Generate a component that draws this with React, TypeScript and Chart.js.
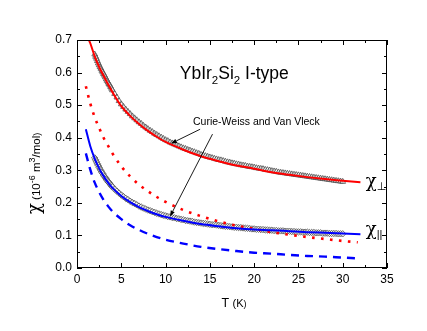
import React, { useEffect, useRef } from "react";
import { Chart, registerables } from "chart.js";
Chart.register(...registerables);

// ---- data ----
const xTickValues = [0, 5, 10, 15, 20, 25, 30, 35];
const yTickValues = [0, 0.1, 0.2, 0.3, 0.4, 0.5, 0.6, 0.7];

// Curie-Weiss + Van Vleck fit, chi_perp (red solid)
const perpFitT = [1.35, 1.5, 2, 2.5, 3, 3.5, 4, 5, 6, 7, 8, 9, 10, 11, 12, 14, 16, 18, 20, 22, 24, 26, 28, 30, 32];
const perpFit = [0.700, 0.690, 0.650, 0.617, 0.590, 0.564, 0.540, 0.497, 0.467, 0.442, 0.421, 0.403, 0.387, 0.375, 0.363, 0.343, 0.328, 0.315, 0.305, 0.294, 0.286, 0.279, 0.273, 0.268, 0.263];

// Curie-Weiss part, chi_perp (red dotted)
const perpCwT = [1.0, 1.5, 2, 2.5, 3, 3.5, 4, 5, 6, 7, 8, 9, 10, 12, 14, 16, 18, 20, 22, 24, 26, 28, 30, 31.7];
const perpCw = [0.558, 0.505, 0.463, 0.430, 0.400, 0.376, 0.352, 0.312, 0.281, 0.256, 0.236, 0.218, 0.203, 0.178, 0.159, 0.143, 0.130, 0.120, 0.110, 0.102, 0.095, 0.089, 0.083, 0.079];

// Curie-Weiss + Van Vleck fit, chi_par (blue solid)
const parFitT = [1.0, 1.5, 2, 2.5, 3, 3.5, 4, 5, 6, 7, 8, 9, 10, 12, 14, 16, 18, 20, 22, 24, 26, 28, 30, 32];
const parFit = [0.426, 0.374, 0.336, 0.306, 0.282, 0.262, 0.246, 0.221, 0.202, 0.187, 0.175, 0.165, 0.157, 0.145, 0.135, 0.128, 0.122, 0.118, 0.116, 0.113, 0.110, 0.108, 0.106, 0.104];

// Curie-Weiss part, chi_par (blue dashed)
const parCwT = [1.0, 1.5, 2, 2.5, 3, 3.5, 4, 5, 6, 7, 8, 9, 10, 12, 14, 16, 18, 20, 22, 24, 26, 28, 30, 31.4];
const parCw = [0.352, 0.302, 0.262, 0.233, 0.209, 0.190, 0.174, 0.150, 0.131, 0.117, 0.105, 0.095, 0.087, 0.075, 0.065, 0.058, 0.052, 0.047, 0.044, 0.040, 0.037, 0.035, 0.032, 0.030];

// measured data
const dataT = [2.0, 2.1, 2.2, 2.3, 2.4, 2.5, 2.6, 2.7, 2.8, 2.9, 3.0, 3.1, 3.2, 3.3, 3.4, 3.5, 3.6, 3.7, 3.8, 3.9, 4.0,
  4.25, 4.5, 4.75, 5.0, 5.25, 5.5, 5.75, 6.0, 6.25, 6.5, 6.75, 7.0, 7.25, 7.5, 7.75, 8.0, 8.25, 8.5, 8.75, 9.0, 9.25, 9.5, 9.75, 10.0,
  10.25, 10.5, 10.75, 11, 11.25, 11.5, 11.75, 12, 12.25, 12.5, 12.75, 13, 13.25, 13.5, 13.75, 14, 14.25, 14.5, 14.75, 15,
  15.25, 15.5, 15.75, 16, 16.25, 16.5, 16.75, 17, 17.25, 17.5, 17.75, 18, 18.25, 18.5, 18.75, 19, 19.25, 19.5, 19.75, 20,
  20.25, 20.5, 20.75, 21, 21.25, 21.5, 21.75, 22, 22.25, 22.5, 22.75, 23, 23.25, 23.5, 23.75, 24, 24.25, 24.5, 24.75, 25,
  25.25, 25.5, 25.75, 26, 26.25, 26.5, 26.75, 27, 27.25, 27.5, 27.75, 28, 28.25, 28.5, 28.75, 29, 29.25, 29.5, 29.75, 30];
const chiPerpData = [0.656, 0.649, 0.643, 0.636, 0.629, 0.623, 0.617, 0.612, 0.606, 0.601, 0.596, 0.591, 0.586, 0.580, 0.575, 0.570, 0.565, 0.561, 0.556, 0.551, 0.546,
  0.535, 0.524, 0.513, 0.503, 0.495, 0.487, 0.480, 0.473, 0.466, 0.460, 0.454, 0.448, 0.443, 0.437, 0.432, 0.427, 0.422, 0.418, 0.413, 0.409, 0.405, 0.401, 0.397, 0.393,
  0.390, 0.386, 0.383, 0.380, 0.377, 0.374, 0.371, 0.368, 0.366, 0.363, 0.361, 0.358, 0.356, 0.353, 0.351, 0.348, 0.346, 0.344, 0.342, 0.340,
  0.338, 0.336, 0.334, 0.332, 0.331, 0.329, 0.327, 0.325, 0.324, 0.322, 0.321, 0.319, 0.318, 0.316, 0.315, 0.314, 0.312, 0.311, 0.310, 0.309,
  0.307, 0.306, 0.305, 0.304, 0.302, 0.301, 0.300, 0.298, 0.297, 0.296, 0.294, 0.293, 0.292, 0.291, 0.290, 0.289, 0.288, 0.287, 0.286, 0.285,
  0.284, 0.283, 0.282, 0.281, 0.280, 0.279, 0.278, 0.277, 0.276, 0.275, 0.274, 0.273, 0.272, 0.271, 0.270, 0.269, 0.268, 0.267, 0.266, 0.265];
const chiParData = [0.338, 0.332, 0.326, 0.320, 0.315, 0.309, 0.304, 0.299, 0.294, 0.290, 0.285, 0.281, 0.277, 0.273, 0.269, 0.265, 0.262, 0.259, 0.255, 0.252, 0.249,
  0.242, 0.236, 0.230, 0.224, 0.219, 0.214, 0.210, 0.205, 0.201, 0.198, 0.194, 0.190, 0.187, 0.184, 0.181, 0.178, 0.176, 0.173, 0.171, 0.168, 0.166, 0.164, 0.162, 0.160,
  0.158, 0.157, 0.155, 0.154, 0.152, 0.151, 0.149, 0.148, 0.146, 0.145, 0.144, 0.143, 0.141, 0.140, 0.139, 0.138, 0.137, 0.136, 0.135, 0.134,
  0.133, 0.133, 0.132, 0.131, 0.130, 0.129, 0.128, 0.128, 0.127, 0.126, 0.125, 0.125, 0.124, 0.124, 0.123, 0.122, 0.122, 0.121, 0.120, 0.120,
  0.119, 0.119, 0.118, 0.118, 0.117, 0.117, 0.116, 0.116, 0.115, 0.115, 0.114, 0.114, 0.114, 0.113, 0.113, 0.113, 0.112, 0.112, 0.111, 0.111,
  0.111, 0.110, 0.110, 0.110, 0.109, 0.109, 0.109, 0.108, 0.108, 0.108, 0.107, 0.107, 0.107, 0.106, 0.106, 0.106, 0.106, 0.105, 0.105, 0.105];

// annotation anchors (data units)
const compoundLabel = { T: 11.6, v: 0.579 };
const fitLabel = { T: 13.1, v: 0.438 };
const arrowPerp = { fromT: 13.9, fromV: 0.426, toT: 10.6, toV: 0.382 };
const arrowPar = { fromT: 15.3, fromV: 0.411, toT: 10.5, toV: 0.158 };
const perpLabel = { T: 32.6, v: 0.250 };
const parLabel = { T: 32.6, v: 0.100 };

const FONT = "'Liberation Sans', Arial, 'DejaVu Sans', sans-serif";
const GREEK = "'DejaVu Serif', 'Liberation Serif', serif";

const zip = (xs: number[], ys: number[]) => xs.map((x, i) => ({ x, y: ys[i] }));

type Run = [string, number, number, string?];
function drawRuns(ctx: CanvasRenderingContext2D, runs: Run[], x: number, y: number) {
  let cx = x;
  for (const [t, size, dy, fam] of runs) {
    ctx.font = `${size}px ${fam || FONT}`;
    ctx.fillText(t, cx, y + dy);
    cx += ctx.measureText(t).width;
  }
}
function runsWidth(ctx: CanvasRenderingContext2D, runs: Run[]) {
  let w = 0;
  for (const [t, size, , fam] of runs) { ctx.font = `${size}px ${fam || FONT}`; w += ctx.measureText(t).width; }
  return w;
}

function arrow(ctx: CanvasRenderingContext2D, x1: number, y1: number, x2: number, y2: number) {
  const ang = Math.atan2(y2 - y1, x2 - x1);
  const L = 6, W = 2.2;
  const bx = x2 - L * Math.cos(ang), by = y2 - L * Math.sin(ang);
  ctx.beginPath();
  ctx.moveTo(x1, y1);
  ctx.lineTo(bx, by);
  ctx.stroke();
  ctx.beginPath();
  ctx.moveTo(x2, y2);
  ctx.lineTo(bx + W * Math.sin(ang), by - W * Math.cos(ang));
  ctx.lineTo(bx - W * Math.sin(ang), by + W * Math.cos(ang));
  ctx.closePath();
  ctx.fill();
}

const decor = {
  id: "decor",
  afterDraw(chart: any) {
    const { ctx, chartArea: a, scales } = chart;
    const x = scales.x, y = scales.y;
    ctx.save();
    ctx.strokeStyle = "#000";
    ctx.fillStyle = "#000";
    ctx.lineWidth = 1;
    // frame
    ctx.strokeRect(Math.round(a.left) + 0.5, Math.round(a.top) + 0.5, Math.round(a.right - a.left) - 1, Math.round(a.bottom - a.top) - 1);
    // inward ticks
    const xMin = xTickValues[0], xMax = xTickValues[xTickValues.length - 1];
    const xStep = xTickValues[1] - xTickValues[0];
    for (let v = xMin; v <= xMax + 1e-9; v += xStep / 2) {
      const major = Math.abs(v / xStep - Math.round(v / xStep)) < 1e-6;
      const len = major ? 5 : 3;
      const px = Math.round(x.getPixelForValue(v)) + 0.5;
      ctx.beginPath();
      ctx.moveTo(px, a.bottom); ctx.lineTo(px, a.bottom - len);
      ctx.moveTo(px, a.top); ctx.lineTo(px, a.top + len);
      ctx.stroke();
    }
    const yMin = yTickValues[0], yMax = yTickValues[yTickValues.length - 1];
    const yStep = yTickValues[1] - yTickValues[0];
    for (let v = yMin; v <= yMax + 1e-9; v += yStep / 2) {
      const major = Math.abs(v / yStep - Math.round(v / yStep)) < 1e-6;
      const len = major ? 5 : 3;
      const py = Math.round(y.getPixelForValue(v)) + 0.5;
      ctx.beginPath();
      ctx.moveTo(a.left, py); ctx.lineTo(a.left + len, py);
      ctx.moveTo(a.right, py); ctx.lineTo(a.right - len, py);
      ctx.stroke();
    }

    ctx.textAlign = "left";
    ctx.textBaseline = "alphabetic";
    // compound label
    drawRuns(ctx, [["YbIr", 17.5, 0], ["2", 11.5, 5], ["Si", 17.5, 0], ["2", 11.5, 5], [" I-type", 17.5, 0]],
      x.getPixelForValue(compoundLabel.T), y.getPixelForValue(compoundLabel.v));
    // fit label
    drawRuns(ctx, [["Curie-Weiss and Van Vleck", 10.5, 0]], x.getPixelForValue(fitLabel.T), y.getPixelForValue(fitLabel.v));
    // arrows
    ctx.lineWidth = 0.9;
    arrow(ctx, x.getPixelForValue(arrowPerp.fromT), y.getPixelForValue(arrowPerp.fromV), x.getPixelForValue(arrowPerp.toT), y.getPixelForValue(arrowPerp.toV));
    arrow(ctx, x.getPixelForValue(arrowPar.fromT), y.getPixelForValue(arrowPar.fromV), x.getPixelForValue(arrowPar.toT), y.getPixelForValue(arrowPar.toV));
    // series labels
    drawRuns(ctx, [["χ", 18, 0, GREEK], ["⊥", 11, 3, "'DejaVu Sans', sans-serif"]], x.getPixelForValue(perpLabel.T), y.getPixelForValue(perpLabel.v));
    drawRuns(ctx, [["χ", 18, 0, GREEK], ["||", 11, 3]], x.getPixelForValue(parLabel.T), y.getPixelForValue(parLabel.v));

    // x title
    const xt: Run[] = [["T ", 12.5, 0], ["(K", 11, 0], [")", 9, 0]];
    drawRuns(ctx, xt, (a.left + a.right) / 2 - runsWidth(ctx, xt) / 2 + 2, a.bottom + 39);

    // y title (rotated)
    ctx.save();
    ctx.translate(40, 214);
    ctx.rotate(-Math.PI / 2);
    drawRuns(ctx, [["χ", 18, 0, GREEK], [" (10", 11.5, 0], ["-6", 9, -5.5], [" m", 11.5, 0], ["3", 9, -5.5], ["/mol", 11.5, 0], [")", 9, 0]], 0, 0);
    ctx.restore();
    ctx.restore();
  },
};

export default function App() {
  const ref = useRef<HTMLCanvasElement | null>(null);
  useEffect(() => {
    if (!ref.current) return;
    const chart = new Chart(ref.current, {
      type: "scatter",
      data: {
        datasets: [
          { label: "perp fit", data: zip(perpFitT, perpFit), showLine: true, borderColor: "#ff0000", borderWidth: 2, pointRadius: 0, cubicInterpolationMode: "monotone" } as any,
          { label: "par fit", data: zip(parFitT, parFit), showLine: true, borderColor: "#0000ff", borderWidth: 2, pointRadius: 0, cubicInterpolationMode: "monotone" } as any,
          { label: "perp CW", data: zip(perpCwT, perpCw), showLine: true, borderColor: "#ff0000", borderWidth: 2.6, borderDash: [2.6, 6.4], pointRadius: 0, cubicInterpolationMode: "monotone" } as any,
          { label: "par CW", data: zip(parCwT, parCw), showLine: true, borderColor: "#0000ff", borderWidth: 2.4, borderDash: [8, 6], pointRadius: 0, cubicInterpolationMode: "monotone" } as any,
          { label: "chi perp", data: zip(dataT, chiPerpData), showLine: false, pointStyle: "triangle", pointRadius: 3.3, pointBorderWidth: 0.8, pointBorderColor: "#4a4a4a", pointBackgroundColor: "rgba(255,255,255,0.5)" } as any,
          { label: "chi par", data: zip(dataT, chiParData), showLine: false, pointStyle: "rectRot", pointRadius: 3.2, pointBorderWidth: 0.8, pointBorderColor: "#4a4a4a", pointBackgroundColor: "rgba(255,255,255,0.5)" } as any,
        ],
      },
      options: {
        animation: false,
        responsive: false,
        devicePixelRatio: 1,
        layout: { padding: { left: 0, top: 40, right: 40, bottom: 0 } },
        plugins: { legend: { display: false }, tooltip: { enabled: false } },
        scales: {
          x: {
            type: "linear",
            min: xTickValues[0],
            max: xTickValues[xTickValues.length - 1],
            ticks: { stepSize: xTickValues[1] - xTickValues[0], color: "#000", padding: 4, font: { family: FONT, size: 12 } },
            grid: { display: false, drawTicks: false },
            border: { display: false },
            afterFit: (s: any) => { s.height = 63; },
          },
          y: {
            type: "linear",
            min: yTickValues[0],
            max: yTickValues[yTickValues.length - 1],
            ticks: { stepSize: yTickValues[1] - yTickValues[0], color: "#000", padding: 5, font: { family: FONT, size: 12 }, callback: (v: any) => Number(v).toFixed(1) },
            grid: { display: false, drawTicks: false },
            border: { display: false },
            afterFit: (s: any) => { s.width = 77; },
          },
        },
      },
      plugins: [decor],
    });
    return () => chart.destroy();
  }, []);
  return (
    <div style={{ position: "absolute", left: 0, top: 0, width: 427, height: 331, background: "#fff" }}>
      <canvas ref={ref} width={427} height={331} style={{ display: "block" }} />
    </div>
  );
}
